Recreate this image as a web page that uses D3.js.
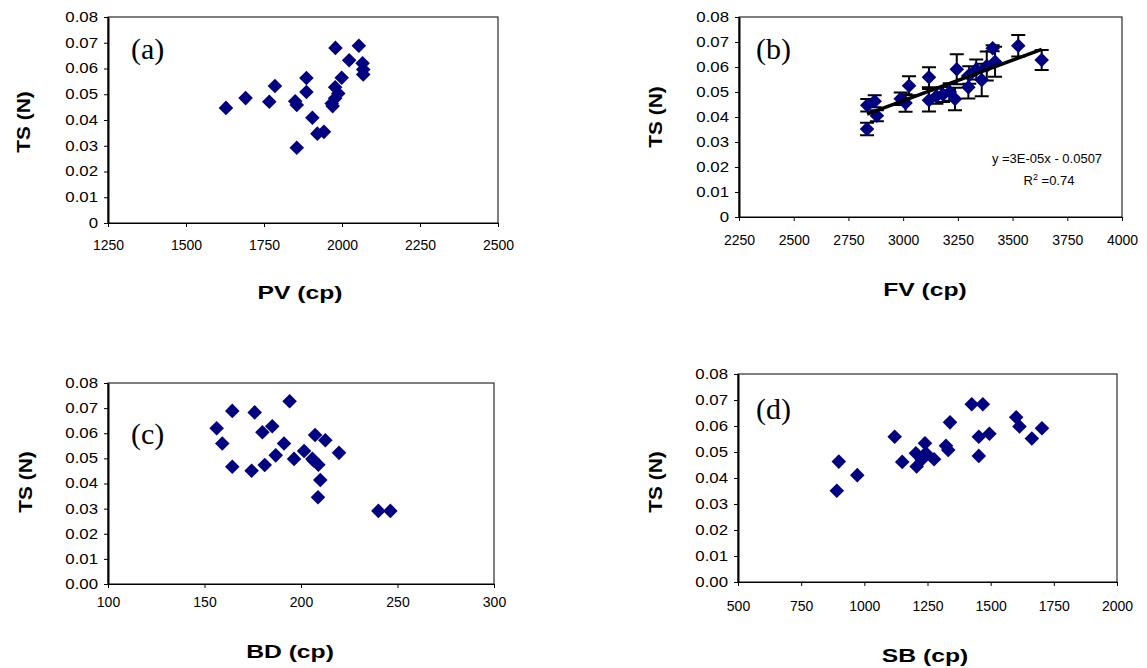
<!DOCTYPE html>
<html><head><meta charset="utf-8">
<script src="https://cdn.jsdelivr.net/npm/d3@7"></script>
<style>body{margin:0;background:#fff}svg{display:block}</style>
</head><body>
<svg id="chart" width="1147" height="668"></svg>
<script>
// ---------- data ----------
const PV   = [1628,1691,1767,1785,1850,1855,1886,1886,1905,1921,1942,1855,1979,2054,2023,2066,2068,2068,1999,1978,1988,1978,1967,1970];
const TS_a = [0.0447,0.0485,0.0471,0.0532,0.0473,0.0458,0.0563,0.0509,0.0409,0.0347,0.0354,0.0292,0.0680,0.0688,0.0632,0.0620,0.0596,0.0577,0.0564,0.0527,0.0503,0.0484,0.0464,0.0454];

const FV    = [2835,2836,2870,2880,2989,3011,3027,3118,3118,3152,3182,3213,3245,3237,3298,3302,3334,3359,3382,3409,3420,3526,3633];
const TS_b  = [0.0352,0.0447,0.0463,0.0405,0.0473,0.0456,0.0525,0.0559,0.0467,0.0483,0.0490,0.0500,0.0591,0.0472,0.0519,0.0568,0.0590,0.0548,0.0604,0.0675,0.0621,0.0685,0.0628];
const ERR_b = [0.0025,0.0025,0.0024,0.0022,0.0025,0.0035,0.0038,0.0040,0.0045,0.0030,0.0030,0.0035,0.0060,0.0045,0.0045,0.0035,0.0040,0.0065,0.0058,0.0012,0.0060,0.0043,0.0040];
// linear trend (displayed rounded as 3E-05)
const trendSlope = 3.24e-5;
const trendIntercept = -0.0507;

const BD   = [156.3,159.2,164.4,164.4,176.0,180.0,174.4,181.2,185.1,186.9,191.2,194.1,196.4,201.6,205.9,207.3,209.0,210.0,208.8,212.6,219.7,240.1,246.3,206.6];
const TS_c = [0.0620,0.0559,0.0689,0.0467,0.0683,0.0604,0.0451,0.0474,0.0628,0.0512,0.0559,0.0727,0.0498,0.0529,0.0498,0.0593,0.0475,0.0414,0.0345,0.0572,0.0522,0.0291,0.0291,0.0492];

const SB   = [891,899,972,1120,1150,1204,1207,1227,1240,1244,1276,1323,1332,1339,1425,1469,1453,1495,1453,1601,1614,1663,1703,1231];
const TS_d = [0.0351,0.0463,0.0411,0.0559,0.0462,0.0495,0.0444,0.0470,0.0534,0.0495,0.0472,0.0524,0.0508,0.0614,0.0684,0.0684,0.0559,0.0570,0.0485,0.0634,0.0598,0.0552,0.0591,0.0483];

const yTicks    = [0,0.01,0.02,0.03,0.04,0.05,0.06,0.07,0.08];
const yLabelsAB = ["0","0.01","0.02","0.03","0.04","0.05","0.06","0.07","0.08"];
const yLabelsCD = ["0.00","0.01","0.02","0.03","0.04","0.05","0.06","0.07","0.08"];
const xTicksA = [1250,1500,1750,2000,2250,2500];
const xTicksB = [2250,2500,2750,3000,3250,3500,3750,4000];
const xTicksC = [100,150,200,250,300];
const xTicksD = [500,750,1000,1250,1500,1750,2000];
const yTitle = "TS (N)";
const xTitles = ["PV (cp)","FV (cp)","BD (cp)","SB (cp)"];
const panelLabels = ["(a)","(b)","(c)","(d)"];
const eqText = "y =3E-05x - 0.0507";
const r2Value = "0.74";

// ---------- drawing ----------
const svg = d3.select("#chart");
const SANS = "'Liberation Sans', Arial, sans-serif";
const SERIF = "'Liberation Serif', 'Times New Roman', serif";
const NAVY = "#000080";
const diamond = d3.symbol().type(d3.symbolSquare).size(106);

function panel(o){
  const x = d3.scaleLinear().domain([o.xTicks[0], o.xTicks[o.xTicks.length-1]]).range([o.left,o.right]);
  const y = d3.scaleLinear().domain([0,0.08]).range([o.bottom,o.top]);
  const g = svg.append("g");

  g.append("rect").attr("x",o.left).attr("y",o.top)
    .attr("width",o.right-o.left).attr("height",o.bottom-o.top)
    .attr("fill","none").attr("stroke","#000").attr("stroke-width",1);

  // y axis
  const ya = g.append("g").attr("transform",`translate(${o.left},0)`)
    .call(d3.axisLeft(y).tickValues(yTicks).tickFormat((d,i)=>o.yLabels[i]).tickSize(4).tickSizeOuter(0));
  ya.select(".domain").attr("stroke","#000").attr("stroke-width",2);
  ya.selectAll(".tick line").attr("stroke","#000");
  const sy = 1.2;
  ya.selectAll(".tick text").attr("font-family",SANS).attr("font-size",14).attr("fill","#000")
    .attr("x",-10/sy).attr("transform",`scale(${sy},1)`);

  // x axis
  const xa = g.append("g").attr("transform",`translate(0,${o.bottom})`)
    .call(d3.axisBottom(x).tickValues(o.xTicks).tickFormat(d3.format("d")).tickSize(4).tickSizeOuter(0));
  xa.select(".domain").attr("stroke","#000").attr("stroke-width",1);
  xa.selectAll(".tick line").attr("stroke","#000");
  xa.selectAll(".tick text").attr("font-family",SANS).attr("font-size",14).attr("fill","#000")
    .attr("y",o.xLabelOff-5).attr("dy","0.71em");

  // titles
  g.append("text").attr("transform",`translate(${o.xTitle[0]},${o.xTitle[1]}) scale(1.3,1)`)
    .attr("text-anchor","middle").attr("dominant-baseline","central")
    .attr("font-family",SANS).attr("font-weight","bold").attr("font-size",19).text(o.xTitleText);
  g.append("text").attr("transform",`translate(${o.yTitle[0]},${o.yTitle[1]}) rotate(-90) scale(1.1,1)`)
    .attr("text-anchor","middle").attr("dominant-baseline","central")
    .attr("font-family",SANS).attr("font-weight","bold").attr("font-size",19).text(yTitle);
  g.append("text").attr("x",o.label[0]).attr("y",o.label[1])
    .attr("font-family",SERIF).attr("font-size",30).text(o.labelText);

  // error bars
  if (o.err){
    const eb = g.append("g").attr("stroke","#000").attr("stroke-width",2);
    o.xs.forEach((xv,i)=>{
      const cx = x(xv), y0 = y(o.ys[i]-o.err[i]), y1 = y(o.ys[i]+o.err[i]);
      eb.append("line").attr("x1",cx).attr("x2",cx).attr("y1",y0).attr("y2",y1);
      eb.append("line").attr("x1",cx-7).attr("x2",cx+7).attr("y1",y0).attr("y2",y0);
      eb.append("line").attr("x1",cx-7).attr("x2",cx+7).attr("y1",y1).attr("y2",y1);
    });
  }

  // markers
  g.append("g").selectAll("path").data(o.xs.map((xv,i)=>[xv,o.ys[i]])).join("path")
    .attr("d",diamond).attr("fill",NAVY)
    .attr("transform",d=>`translate(${x(d[0])},${y(d[1])}) rotate(45)`);

  // trend line
  if (o.trend){
    const b = o.trend[0], a = o.trend[1];
    const ext = d3.extent(o.xs);
    g.append("line").attr("x1",x(ext[0])).attr("y1",y(a+b*ext[0]))
      .attr("x2",x(ext[1])).attr("y2",y(a+b*ext[1]))
      .attr("stroke","#000").attr("stroke-width",3.5);
    g.append("text").attr("x",o.eq[0]).attr("y",o.eq[1]).attr("text-anchor","middle")
      .attr("font-family",SANS).attr("font-size",13).text(eqText);
    const t = g.append("text").attr("x",o.eq[0]+2).attr("y",o.eq[1]+22).attr("text-anchor","middle")
      .attr("font-family",SANS).attr("font-size",13);
    t.append("tspan").text("R");
    t.append("tspan").attr("dy",-5).attr("font-size",9).text("2");
    t.append("tspan").attr("dy",5).text(" =" + r2Value);
  }
}

panel({xs:PV, ys:TS_a, xTicks:xTicksA, yLabels:yLabelsAB, left:108, right:498, top:17, bottom:223,
  xLabelOff:22, xTitle:[300,293], yTitle:[23,122], xTitleText:xTitles[0], label:[131,59], labelText:panelLabels[0]});
panel({xs:FV, ys:TS_b, err:ERR_b, trend:[trendSlope,trendIntercept], xTicks:xTicksB, yLabels:yLabelsAB, left:739, right:1122, top:17, bottom:217,
  xLabelOff:23, xTitle:[925,290], yTitle:[655,117], xTitleText:xTitles[1], label:[756,59], labelText:panelLabels[1], eq:[1047,163]});
panel({xs:BD, ys:TS_c, xTicks:xTicksC, yLabels:yLabelsCD, left:108, right:494, top:383, bottom:584,
  xLabelOff:18, xTitle:[290,652], yTitle:[25,482], xTitleText:xTitles[2], label:[131,444], labelText:panelLabels[2]});
panel({xs:SB, ys:TS_d, xTicks:xTicksD, yLabels:yLabelsCD, left:738, right:1117, top:374, bottom:582,
  xLabelOff:24, xTitle:[925,656], yTitle:[655,482], xTitleText:xTitles[3], label:[756,419], labelText:panelLabels[3]});
</script>
</body></html>
